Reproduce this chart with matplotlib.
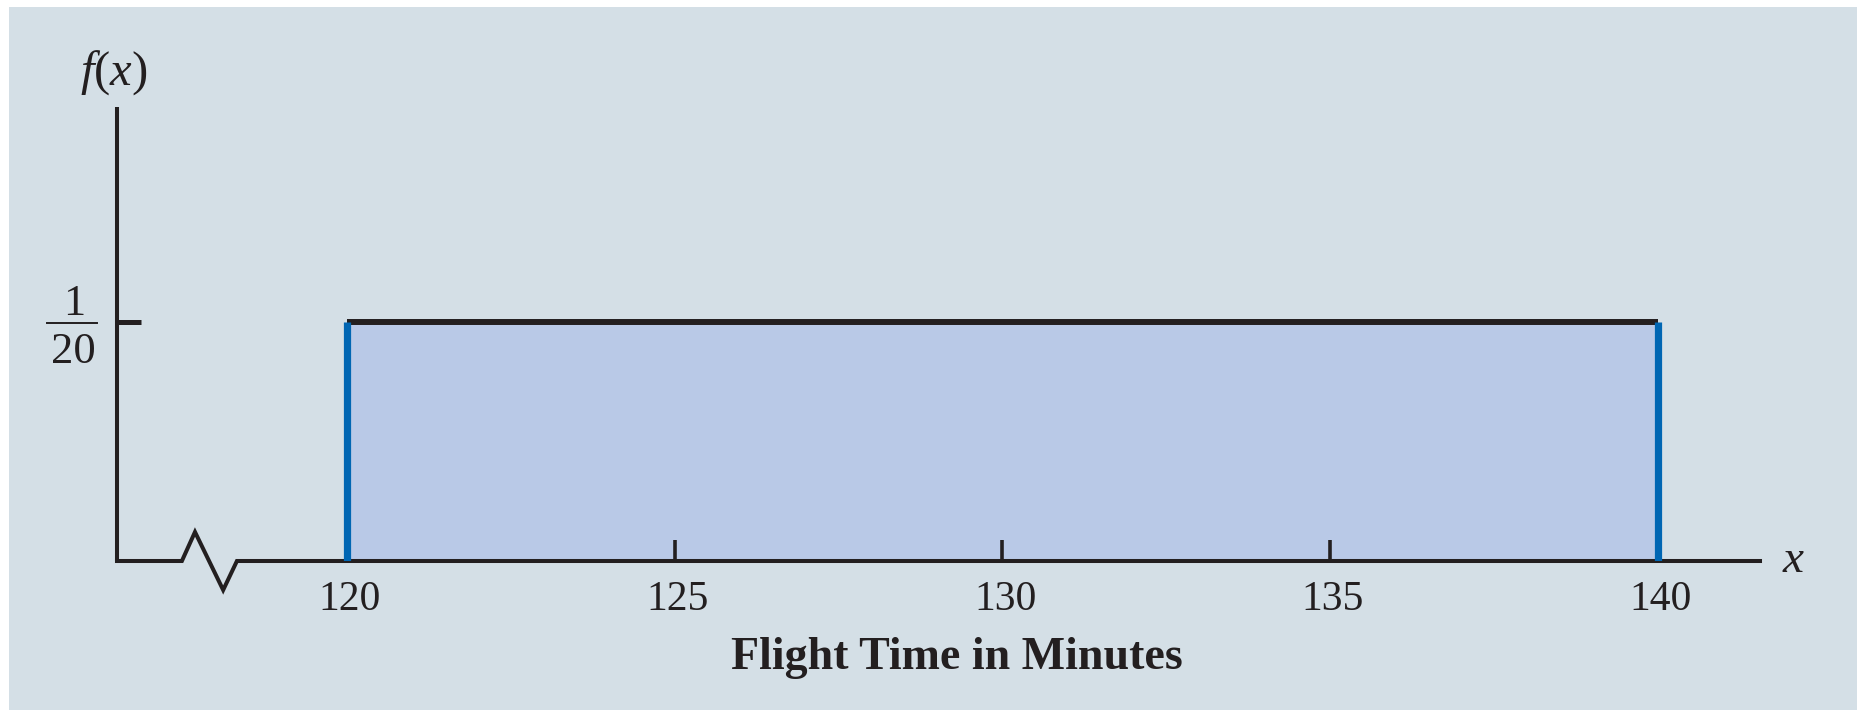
import matplotlib
matplotlib.use("Agg")
import matplotlib.pyplot as plt
from matplotlib.patches import Rectangle

# ---- data ----
a, b = 120, 140
density = 1 / (b - a)          # 1/20
x_ticks = [120, 125, 130, 135, 140]
x_tick_labels = ["120", "125", "130", "135", "140"]
xlabel = "Flight Time in Minutes"

# ---- style ----
BG = "#D4DFE6"
FILL = "#B9C9E7"
EDGE = "#0066B3"
INK = "#231F20"
SERIF = "Liberation Serif"

plt.rcParams["mathtext.fontset"] = "custom"
plt.rcParams["mathtext.rm"] = SERIF
plt.rcParams["mathtext.it"] = SERIF + ":italic"

W, H = 1857, 710
fig = plt.figure(figsize=(W / 100, H / 100), dpi=100)
fig.patch.set_facecolor("white")
fig.patches.append(Rectangle((9 / W, 0), 1 - 9 / W, 1 - 7 / H,
                             transform=fig.transFigure, facecolor=BG,
                             edgecolor="none", zorder=-10))

xmin, xmax = 116.49, 141.56
ymin, ymax = 0.0, 0.095
ax = fig.add_axes([117 / W, 149 / H, (1760 - 117) / W, (603 - 149) / H])
ax.set_xlim(xmin, xmax)
ax.set_ylim(ymin, ymax)
ax.set_facecolor("none")
for s in ax.spines.values():
    s.set_visible(False)
ax.set_xticks([])
ax.set_yticks([])

# uniform density
ax.fill_between([a, b], 0, density, color=FILL, linewidth=0, zorder=1)
ax.plot([a, b], [density, density], color=INK, lw=4.3,
        solid_capstyle="butt", zorder=3)
ax.vlines([a, b], 0, density, color=EDGE, lw=5.2, zorder=4)

# axes with break symbol
bx = [117.48, 117.68, 118.11, 118.32]
bh = 0.00607
ax.plot([xmin, bx[0], bx[1], bx[2], bx[3], xmax],
        [0, 0, bh, -bh, 0, 0], color=INK, lw=2.9, zorder=2,
        solid_joinstyle="miter", clip_on=False)
ax.plot([xmin, xmin], [0, ymax], color=INK, lw=2.9, zorder=2,
        solid_capstyle="butt", clip_on=False)

# x ticks (inward, upward) and labels
for t, lab in zip(x_ticks, x_tick_labels):
    ax.plot([t, t], [0, 0.0044], color=INK, lw=2.6, zorder=2,
            solid_capstyle="butt")
    ax.annotate(lab, (t, 0), xytext=(2, -28), textcoords="offset points",
                ha="center", va="center", fontsize=30, family=SERIF,
                color=INK, annotation_clip=False)

# y tick at density
ax.plot([xmin, xmin + 0.37], [density, density], color=INK, lw=3.6,
        solid_capstyle="butt", zorder=2, clip_on=False)

# fraction label 1/20
fig.text(74 / W, 1 - 304 / H, "1", ha="center", va="center",
         fontsize=32, family=SERIF, color=INK)
fig.text(73 / W, 1 - 352 / H, "20", ha="center", va="center",
         fontsize=32, family=SERIF, color=INK)
fig.add_artist(plt.Line2D([47 / W, 97 / W], [1 - 323 / H, 1 - 323 / H],
                          transform=fig.transFigure, color=INK, lw=1.4))

# axis labels
fig.text(114 / W, 1 - 73 / H, r"$f(x)$", ha="center", va="center",
         fontsize=35, color=INK)
fig.text(1794 / W, 1 - 560 / H, r"$x$", ha="center", va="center",
         fontsize=34, color=INK)
fig.text(957 / W, 1 - 658 / H, xlabel, ha="center", va="center",
         fontsize=33, family=SERIF, fontweight="bold", color=INK)

fig.savefig("out.png", dpi=100, facecolor=fig.get_facecolor())
